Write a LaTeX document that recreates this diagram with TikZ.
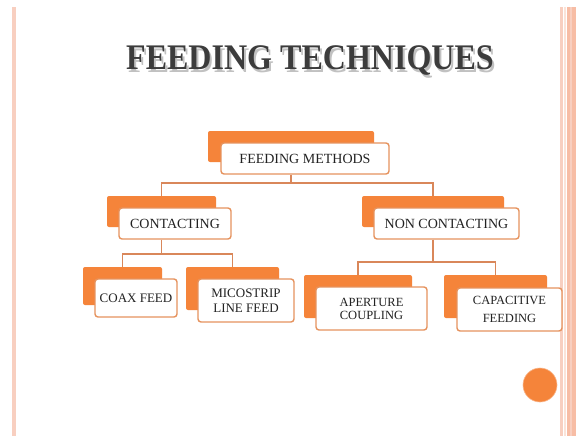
\documentclass[tikz,border=0pt]{standalone}
\usepackage{fontspec}
\setmainfont{Liberation Serif}
\definecolor{orng}{HTML}{F5843A}
\definecolor{bord}{HTML}{E6935E}
\definecolor{conncol}{HTML}{D9875A}
\definecolor{edgeA}{HTML}{F8CFC0}
\definecolor{edgeB}{HTML}{F7BDA5}
\definecolor{edgeC}{HTML}{FBE3D8}
\definecolor{titlecol}{HTML}{3C3C3C}
\definecolor{txt}{HTML}{222222}
\tikzset{
  backbox/.style={fill=orng, rounded corners=2pt, inner sep=0pt, draw=none},
  frontbox/.style={fill=white, draw=bord, line width=1.4pt, rounded corners=3pt, inner sep=0pt, align=center, text=txt},
  conn/.style={draw=conncol, line width=1.2pt},
}
\begin{document}
\begin{tikzpicture}[x=1pt,y=-1pt]
\useasboundingbox (0,0) rectangle (576,436);
\fill[white] (0,0) rectangle (576,436);
% borders
\fill[edgeA] (12,7) rectangle (16,436);
\fill[edgeA] (560,7) rectangle (562.5,436);
\fill[edgeC] (564,7) rectangle (565.5,436);
\fill[edgeB] (567,7) rectangle (576,436);
\fill[edgeA] (570,7) rectangle (572,436);
% title
\node[anchor=base, text=black!30, opacity=0.8] (tshadow) at (312,72.5) {\scalebox{0.89}[1]{\fontsize{36}{40}\selectfont\bfseries FEEDING TECHNIQUES}};
\node[anchor=base, text=titlecol] (title) at (310,70) {\scalebox{0.89}[1]{\fontsize{36}{40}\selectfont\bfseries FEEDING TECHNIQUES}};
% level 0
\node[backbox, minimum width=166pt, minimum height=31pt] (fmb) at (291,146.5) {};
\node[frontbox, minimum width=168pt, minimum height=31pt, font=\fontsize{14}{16}\selectfont] (fm) at (305,158.5) {FEEDING METHODS};
% level 1
\node[backbox, minimum width=109pt, minimum height=31pt] (cb) at (161.5,211.5) {};
\node[frontbox, minimum width=112pt, minimum height=31pt, font=\fontsize{14}{16}\selectfont] (c) at (175,223.5) {CONTACTING};
\node[backbox, minimum width=142pt, minimum height=31pt] (ncb) at (433,211.5) {};
\node[frontbox, minimum width=145pt, minimum height=31pt, font=\fontsize{14}{16}\selectfont] (nc) at (446.5,223.5) {NON CONTACTING};
% level 2
\node[backbox, minimum width=79pt, minimum height=38pt] (cfb) at (122.5,286) {};
\node[frontbox, minimum width=82pt, minimum height=38pt, font=\fontsize{13}{15}\selectfont] (cf) at (136,298) {COAX FEED};
\node[backbox, minimum width=93pt, minimum height=43pt] (msb) at (232.5,288.5) {};
\node[frontbox, minimum width=96pt, minimum height=43pt, font=\fontsize{13}{14.5}\selectfont] (ms) at (246,300.5) {MICOSTRIP\\LINE FEED};
\node[backbox, minimum width=108pt, minimum height=43pt] (apb) at (358,296.5) {};
\node[frontbox, minimum width=111pt, minimum height=43pt, font=\fontsize{12.5}{13}\selectfont] (ap) at (371.5,308.5) {APERTURE\\COUPLING};
\node[backbox, minimum width=103pt, minimum height=43pt] (cpb) at (495.5,296.5) {};
\node[frontbox, minimum width=105pt, minimum height=43pt, font=\fontsize{12.5}{17.5}\selectfont] (cp) at (509.5,309.5) {CAPACITIVE\\FEEDING};
% connectors
\coordinate (j0) at (291,183);
\coordinate (j1) at (161.5,254);
\coordinate (j2) at (433,262);
\draw[conn] (fmb |- fm.south) -- (j0);
\draw[conn] (cb.north) |- (j0) -| (ncb.north);
\draw[conn] (cb |- c.south) -- (j1);
\draw[conn] (cfb.north) |- (j1) -| (msb.north);
\draw[conn] (ncb |- nc.south) -- (j2);
\draw[conn] (apb.north) |- (j2) -| (cpb.north);
% circle
\node[circle, fill=orng, draw=orng!60, line width=0.6pt, minimum size=34pt, inner sep=0pt] (dot) at (540,385) {};
\end{tikzpicture}
\end{document}
